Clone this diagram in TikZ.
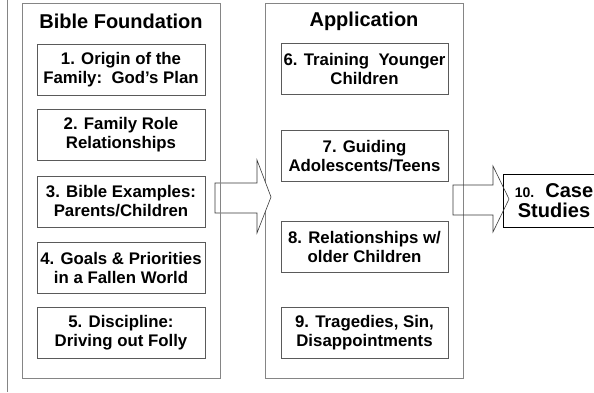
\documentclass[tikz,border=0pt]{standalone}
\usepackage{fontspec}
\setmainfont{Liberation Sans}
\definecolor{outergray}{HTML}{858585}
\definecolor{innergray}{HTML}{5A5A5A}
\definecolor{arrowgray}{HTML}{3A3A3A}

\begin{document}
\begin{tikzpicture}[x=1pt, y=-1pt,
  column/.style={draw=outergray, line width=0.9pt, minimum width=198pt, minimum height=375pt, inner sep=0pt},
  heading/.style={font=\fontsize{20}{24}\selectfont\bfseries},
  topic/.style={draw=innergray, line width=0.8pt, minimum width=168pt, minimum height=51pt, inner sep=0pt, align=center, font=\fontsize{16.8}{19}\selectfont\bfseries},
  blockarrow/.style={draw=arrowgray, line width=0.6pt, line join=miter}]
\useasboundingbox (0,0) rectangle (594,392);
\draw[draw=outergray, line width=0.9pt] (7,0) -- (7,392);
\node[column] (C2) at (364,190.5) {};
\draw[blockarrow, fill=white] (215,183) -- (257,183) -- (257,160) -- (271,197) -- (257,233) -- (257,213) -- (215,213) -- cycle;
\node[column] (C1) at (121,190.5) {};
\node[heading] (C1T) at (121,21) {Bible Foundation};
\node[topic] (C1N1) at (121,69.5) {1. Origin of the\\Family:\ \ God’s Plan};
\node[topic] (C1N2) at (121,135) {2. Family Role\\Relationships};
\node[topic] (C1N3) at (121,201.5) {3. Bible Examples:\\Parents/Children};
\node[topic] (C1N4) at (121,268) {4. Goals \& Priorities\\in a Fallen World};
\node[topic] (C1N5) at (121,333) {5. Discipline:\\Driving out Folly};
\node[heading] (C2T) at (364,21) {Application};
\node[topic, minimum width=167pt] (C2N6) at (364.5,69) {6. Training\ \ Younger\\Children};
\node[topic, minimum width=167pt] (C2N7) at (364.5,156) {7. Guiding\\Adolescents/Teens};
\node[topic, minimum width=167pt] (C2N8) at (364.5,247) {8. Relationships w/\\older Children};
\node[topic, minimum width=167pt] (C2N9) at (364.5,333) {9. Tragedies, Sin,\\Disappointments};
\node[draw=black, line width=1pt, minimum width=102pt, minimum height=53pt, inner sep=0pt, align=center, font=\fontsize{20}{20}\selectfont\bfseries] (C3N10) at (554,201) {{\fontsize{14}{16}\selectfont 10.}\ \ Case\\Studies};
\draw[blockarrow] (453,185) -- (493,185) -- (493,166) -- (509,199) -- (493,232) -- (493,215) -- (453,215) -- cycle;
\end{tikzpicture}
\end{document}
